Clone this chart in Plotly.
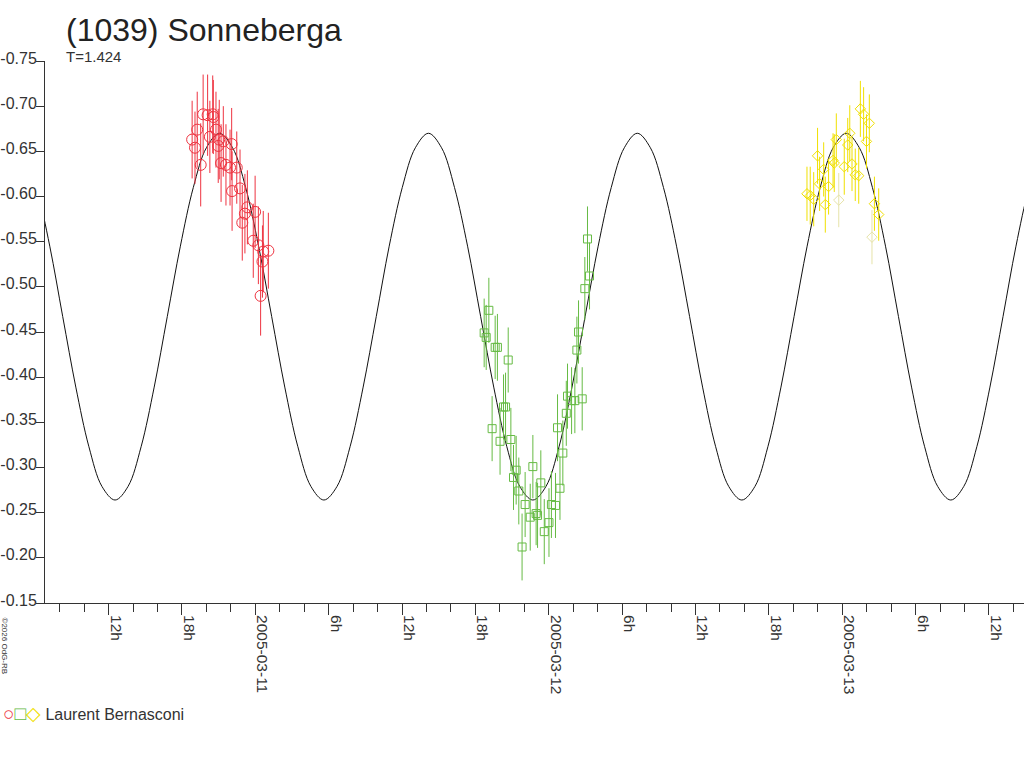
import pandas as pd
import plotly.graph_objects as go

# (1039) Sonneberga - lightcurve, 3 nights, one observer

# night 1 (red circles)
red_time = ["2005-03-10 18:50", "2005-03-10 19:04", "2005-03-10 19:15", "2005-03-10 19:32",
            "2005-03-10 19:44", "2005-03-10 20:06", "2005-03-10 20:31", "2005-03-10 20:34",
            "2005-03-10 20:17", "2005-03-10 20:47", "2005-03-10 21:03", "2005-03-10 21:23",
            "2005-03-10 20:58", "2005-03-10 22:04", "2005-03-10 21:12", "2005-03-10 21:36",
            "2005-03-10 21:56", "2005-03-10 22:29", "2005-03-10 22:06", "2005-03-10 22:45",
            "2005-03-10 23:21", "2005-03-10 23:59", "2005-03-10 23:09", "2005-03-10 22:56",
            "2005-03-10 23:50", "2005-03-11 00:15", "2005-03-11 00:39", "2005-03-11 01:04",
            "2005-03-11 00:35", "2005-03-11 00:26"]
red_mag = [-0.663, -0.654, -0.674, -0.635, -0.691, -0.690, -0.691, -0.688, -0.666, -0.674,
           -0.663, -0.661, -0.656, -0.658, -0.637, -0.635, -0.632, -0.632, -0.606, -0.609,
           -0.588, -0.583, -0.581, -0.571, -0.551, -0.546, -0.539, -0.540, -0.528, -0.490]
red_err = [0.043, 0.040, 0.042, 0.046, 0.044, 0.045, 0.043, 0.041, 0.040, 0.042,
           0.044, 0.039, 0.041, 0.040, 0.043, 0.045, 0.042, 0.040, 0.044, 0.043,
           0.041, 0.040, 0.044, 0.042, 0.041, 0.043, 0.045, 0.042, 0.040, 0.044]

# night 2 (green squares)
green_time = ["2005-03-12 03:10", "2005-03-12 03:20", "2005-03-12 02:57", "2005-03-11 19:06",
              "2005-03-11 18:43", "2005-03-11 18:53", "2005-03-11 19:37", "2005-03-11 19:48",
              "2005-03-11 20:41", "2005-03-12 02:26", "2005-03-12 02:18", "2005-03-11 20:18",
              "2005-03-11 20:28", "2005-03-11 19:22", "2005-03-11 20:01", "2005-03-11 20:54",
              "2005-03-12 01:32", "2005-03-12 01:52", "2005-03-12 02:08", "2005-03-12 02:44",
              "2005-03-12 01:26", "2005-03-12 00:43", "2005-03-12 01:09", "2005-03-11 21:20",
              "2005-03-11 21:07", "2005-03-11 22:42", "2005-03-11 21:33", "2005-03-11 23:21",
              "2005-03-12 00:55", "2005-03-11 22:04", "2005-03-12 00:13", "2005-03-12 00:33",
              "2005-03-11 22:58", "2005-03-11 23:05", "2005-03-11 22:29", "2005-03-12 00:01",
              "2005-03-11 23:38", "2005-03-11 21:49"]
green_mag = [-0.553, -0.512, -0.498, -0.474, -0.449, -0.444, -0.433, -0.433, -0.419, -0.450,
             -0.430, -0.367, -0.367, -0.343, -0.329, -0.331, -0.379, -0.374, -0.374, -0.376,
             -0.360, -0.344, -0.316, -0.297, -0.289, -0.301, -0.274, -0.283, -0.277, -0.259,
             -0.259, -0.258, -0.249, -0.247, -0.245, -0.239, -0.229, -0.212]
green_err = [0.036, 0.037, 0.035, 0.036, 0.038, 0.036, 0.035, 0.037, 0.036, 0.035,
             0.037, 0.036, 0.038, 0.036, 0.037, 0.035, 0.036, 0.037, 0.036, 0.035,
             0.036, 0.037, 0.036, 0.038, 0.036, 0.035, 0.037, 0.036, 0.035, 0.036,
             0.037, 0.036, 0.035, 0.036, 0.037, 0.038, 0.036, 0.037]

# night 3 (yellow diamonds)
yellow_time = ["2005-03-13 01:29", "2005-03-13 01:45", "2005-03-13 02:13", "2005-03-13 01:59",
               "2005-03-13 00:37", "2005-03-13 00:27", "2005-03-12 23:31", "2005-03-12 21:59",
               "2005-03-12 23:15", "2005-03-12 23:21", "2005-03-13 00:48", "2005-03-13 00:10",
               "2005-03-12 22:29", "2005-03-13 01:04", "2005-03-13 01:21", "2005-03-12 22:09",
               "2005-03-12 22:53", "2005-03-12 21:07", "2005-03-12 21:23", "2005-03-12 21:40",
               "2005-03-12 22:37", "2005-03-13 02:38", "2005-03-13 02:59"]
yellow_mag = [-0.697, -0.691, -0.681, -0.661, -0.670, -0.657, -0.663, -0.645, -0.640, -0.637,
              -0.636, -0.633, -0.630, -0.624, -0.623, -0.614, -0.611, -0.603, -0.601, -0.597,
              -0.591, -0.592, -0.580]
yellow_err = [0.031, 0.030, 0.032, 0.030, 0.031, 0.030, 0.029, 0.031, 0.030, 0.032,
              0.030, 0.031, 0.030, 0.029, 0.031, 0.030, 0.031, 0.030, 0.032, 0.030,
              0.031, 0.030, 0.029]
# low weight points, drawn pale
pale_time = ["2005-03-12 23:43", "2005-03-13 02:26"]
pale_mag = [-0.596, -0.555]
pale_err = [0.030, 0.030]

# fitted curve (hours from 2005-03-11 00:00)
curve_hours = [-20.02, -18.95, -17.88, -16.81, -15.75, -14.68, -13.61, -12.54, -11.47, -10.41,
               -9.34, -8.27, -7.20, -6.13, -5.07, -4.00, -2.93, -1.86, -0.79, 0.27,
               1.34, 2.41, 3.48, 4.55, 5.61, 6.68, 7.75, 8.82, 9.89, 10.95,
               12.02, 13.09, 14.16, 15.23, 16.29, 17.36, 18.43, 19.50, 20.57, 21.63,
               22.70, 23.77, 24.84, 25.90, 26.97, 28.04, 29.11, 30.18, 31.24, 32.31,
               33.38, 34.45, 35.52, 36.58, 37.65, 38.72, 39.79, 40.86, 41.92, 42.99,
               44.06, 45.13, 46.20, 47.26, 48.33, 49.40, 50.47, 51.54, 52.60, 53.67,
               54.74, 55.81, 56.88, 57.94, 59.01, 60.08, 61.15, 62.21, 63.28, 64.35, 65.42]
curve_mag = [-0.670, -0.654, -0.610, -0.545, -0.467, -0.389, -0.323, -0.279, -0.264, -0.279,
             -0.323, -0.389, -0.467, -0.545, -0.610, -0.654, -0.670, -0.654, -0.610, -0.545,
             -0.467, -0.389, -0.323, -0.279, -0.264, -0.279, -0.323, -0.389, -0.467, -0.545,
             -0.610, -0.654, -0.670, -0.654, -0.610, -0.545, -0.467, -0.389, -0.323, -0.279,
             -0.264, -0.279, -0.323, -0.389, -0.467, -0.545, -0.610, -0.654, -0.670, -0.654,
             -0.610, -0.545, -0.467, -0.389, -0.323, -0.279, -0.264, -0.279, -0.323, -0.389,
             -0.467, -0.545, -0.610, -0.654, -0.670, -0.654, -0.610, -0.545, -0.467, -0.389,
             -0.323, -0.279, -0.264, -0.279, -0.323, -0.389, -0.467, -0.545, -0.610, -0.654, -0.670]

y_ticks = [-0.75, -0.70, -0.65, -0.60, -0.55, -0.50, -0.45, -0.40, -0.35, -0.30, -0.25, -0.20, -0.15]
y_labels = ["-0.75", "-0.70", "-0.65", "-0.60", "-0.55", "-0.50", "-0.45", "-0.40",
            "-0.35", "-0.30", "-0.25", "-0.20", "-0.15"]
x_ticks = ["2005-03-10 12:00", "2005-03-10 18:00", "2005-03-11 00:00", "2005-03-11 06:00",
           "2005-03-11 12:00", "2005-03-11 18:00", "2005-03-12 00:00", "2005-03-12 06:00",
           "2005-03-12 12:00", "2005-03-12 18:00", "2005-03-13 00:00", "2005-03-13 06:00",
           "2005-03-13 12:00"]
x_labels = ["12h", "18h", "2005-03-11", "6h", "12h", "18h", "2005-03-12", "6h",
            "12h", "18h", "2005-03-13", "6h", "12h"]

RED = "#ee3340"
GREEN = "#66bb44"
YELLOW = "#f0e000"
PALE = "#e6e3a8"
INK = "#333333"

curve_time = pd.Timestamp("2005-03-11") + pd.to_timedelta(curve_hours, unit="h")

fig = go.Figure()

fig.add_trace(go.Scatter(x=curve_time, y=curve_mag, mode="lines",
                         line=dict(color="#111111", width=1, shape="spline"),
                         hoverinfo="skip", showlegend=False))


def add_night(t, m, e, color, symbol, size):
    fig.add_trace(go.Scatter(
        x=pd.to_datetime(t), y=m, mode="markers",
        marker=dict(symbol=symbol, size=size, color=color, line=dict(width=1)),
        error_y=dict(type="data", array=e, color=color, thickness=1, width=0),
        showlegend=False))


add_night(pale_time, pale_mag, pale_err, PALE, "diamond-open", 8)
add_night(yellow_time, yellow_mag, yellow_err, YELLOW, "diamond-open", 8)
add_night(green_time, green_mag, green_err, GREEN, "square-open", 8)
add_night(red_time, red_mag, red_err, RED, "circle-open", 11)

minor_ticks = pd.date_range("2005-03-10 08:00", "2005-03-13 14:00", freq="2h")

fig.update_xaxes(
    type="date", range=["2005-03-10 06:48", "2005-03-13 14:52"], automargin=False,
    tickmode="array", tickvals=x_ticks, ticktext=x_labels, tickangle=90,
    ticks="outside", ticklen=11, tickcolor=INK, ticklabelshift=7, ticklabelstandoff=-3,
    minor=dict(tickmode="array", tickvals=minor_ticks, ticks="outside", ticklen=8, tickcolor=INK),
    showline=True, linecolor=INK, linewidth=1, showgrid=False, zeroline=False,
    tickfont=dict(size=15.5, color=INK))
fig.update_yaxes(
    range=[-0.15, -0.75], automargin=False,
    tickmode="array", tickvals=y_ticks, ticktext=y_labels,
    ticks="outside", ticklen=8, tickcolor=INK, ticklabelshift=3, ticklabelstandoff=-4,
    showline=True, linecolor=INK, linewidth=1, showgrid=False, zeroline=False,
    tickfont=dict(size=16, color=INK))

fig.update_layout(
    width=1024, height=768,
    margin=dict(l=45, r=0, t=61, b=165),
    paper_bgcolor="white", plot_bgcolor="white",
    font=dict(family="Liberation Sans, Arial, sans-serif", color=INK),
    title=dict(text="(1039) Sonneberga", x=66 / 1024, xanchor="left",
               y=1 - 30 / 768, yanchor="middle", xref="container", yref="container",
               font=dict(size=32, color="#222222")),
    showlegend=False,
    annotations=[
        dict(text="T=1.424", xref="paper", yref="paper", x=0.0194, y=1.0074,
             xanchor="left", yanchor="middle", showarrow=False, font=dict(size=15, color=INK)),
        dict(text="©2026 OdG-RB", xref="paper", yref="paper", x=-0.041, y=-0.08,
             xanchor="center", yanchor="middle", textangle=90, showarrow=False,
             font=dict(size=8, color=INK)),
        dict(text=f"<span style='color:{RED};font-size:19px'>○</span>"
                  f"<span style='color:{GREEN};font-size:19px'>□</span>"
                  f"<span style='color:{YELLOW};font-size:19px'>◇</span> Laurent Bernasconi",
             xref="paper", yref="paper", x=-0.045, y=-0.203,
             xanchor="left", yanchor="middle", showarrow=False, font=dict(size=16, color=INK)),
    ],
)

# page has a default 8px body margin; drop it so the figure sits at 0,0
fig.write_html("out.html", config={"displayModeBar": False},
               post_script="document.body.style.margin='0px';")
